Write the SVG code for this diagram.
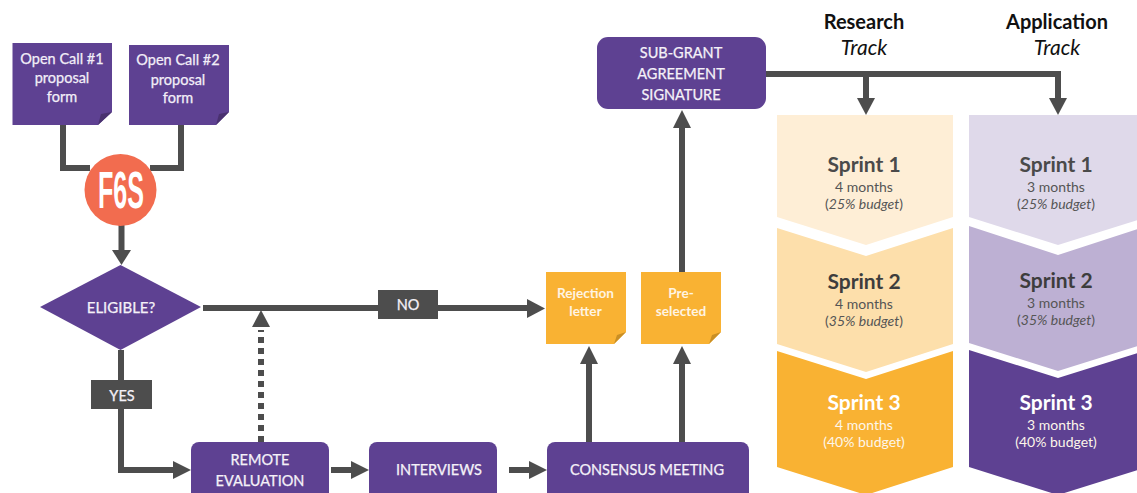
<svg xmlns="http://www.w3.org/2000/svg" width="1137" height="493" viewBox="0 0 1137 493">
<style>
text{font-family:"Lato","Open Sans","Liberation Sans",sans-serif;text-anchor:middle}
.w{fill:#f3eff8;stroke:#f3eff8;stroke-width:.25;font-size:14.500px}
.ww{fill:#f5f1f8;stroke:#f5f1f8;stroke-width:.25;font-size:14.500px}
.o{fill:#fff4e2;font-size:13.600px;font-weight:700}
.line{fill:none;stroke:#4d4d4d;stroke-width:6}
.head{fill:#4d4d4d}
.p{fill:#5e4192}
.a{fill:#f9b233}
.t{fill:#111;font-size:21px}
.s{font-size:21px;font-weight:700}
.d{fill:#555;font-size:14px}
.dw{fill:#fdf6ea;font-size:14px}
</style>
<rect width="1137" height="493" fill="#fff"/>
<g id="connectors">
<path class="line" d="M63 125V168H90M181 125V168H150"/>
<path class="line" d="M121.500 224V252"/><path class="head" d="M112 250H131L121.500 265Z"/>
<path class="line" d="M203 308H530"/><path class="head" d="M527 299L545 308.500L527 318Z"/>
<path class="line" d="M121 350V470H176"/><path class="head" d="M173 461L191 470L173 479Z"/>
<path class="line" d="M261 442V330" stroke-dasharray="6 5"/><path class="head" d="M252 327H270L261 310Z"/>
<path class="line" d="M331 470H354"/><path class="head" d="M351 461L369 470L351 479Z"/>
<path class="line" d="M509 470H532"/><path class="head" d="M529 461L547 470L529 479Z"/>
<path class="line" d="M589 442V360"/><path class="head" d="M580 364H598L589 346Z"/>
<path class="line" d="M682 442V360"/><path class="head" d="M673 364H691L682 346Z"/>
<path class="line" d="M682 272V125"/><path class="head" d="M673 128H691L682 110Z"/>
<path class="line" d="M766 74H1058V100M866 74V100"/>
<path class="head" d="M857 98H875L866 115Z"/><path class="head" d="M1049 98H1067L1058 115Z"/>
</g>
<g id="doc1"><path class="p" d="M12.500 43H112V112L98 125H12.500Z"/><path fill="#49316f" d="M98 125L101 114L112 112Z"/>
<text class="w" x="62" y="64">Open Call #1</text><text class="w" x="62" y="83">proposal</text><text class="w" x="62" y="102">form</text></g>
<g id="doc2"><path class="p" d="M129 45H229V112L216 125H129Z"/><path fill="#49316f" d="M216 125L219 114L229 112Z"/>
<text class="w" x="178" y="65">Open Call #2</text><text class="w" x="178" y="85">proposal</text><text class="w" x="178" y="103">form</text></g>
<g id="f6s"><circle cx="120.500" cy="190" r="36" fill="#f26c4f"/>
<text x="121" y="208" fill="#fff" font-size="52" font-weight="700" style="font-family:'Liberation Sans',sans-serif" textLength="46" lengthAdjust="spacingAndGlyphs">F6S</text></g>
<g id="eligible"><path class="p" d="M40 307L120.500 265L201 307L120.500 350Z"/><text class="ww" style="font-size:15px" x="121" y="313">ELIGIBLE?</text></g>
<g id="no"><rect x="378" y="290" width="60" height="29" fill="#4d4d4d"/><text class="ww" x="408" y="310">NO</text></g>
<g id="yes"><rect x="91" y="380" width="61" height="29" fill="#4d4d4d"/><text class="ww" x="122" y="401">YES</text></g>
<g id="remote"><path class="p" d="M199 442H321a8 8 0 0 1 8 8V493H191V450a8 8 0 0 1 8-8Z"/><text class="ww" x="260" y="465">REMOTE</text><text class="ww" x="260" y="486">EVALUATION</text></g>
<g id="interviews"><path class="p" d="M377 442H489a8 8 0 0 1 8 8V493H369V450a8 8 0 0 1 8-8Z"/><text class="ww" x="439" y="475">INTERVIEWS</text></g>
<g id="consensus"><path class="p" d="M555 442H741a8 8 0 0 1 8 8V493H547V450a8 8 0 0 1 8-8Z"/><text class="ww" x="647" y="475">CONSENSUS MEETING</text></g>
<g id="rejection"><path class="a" d="M546 272H626V332L614 344H546Z"/><path fill="#c98f25" d="M614 344L617 335L626 332Z"/><text class="o" x="585.500" y="298">Rejection</text><text class="o" x="585.500" y="316">letter</text></g>
<g id="preselected"><path class="a" d="M641 272H721V332L709 344H641Z"/><path fill="#c98f25" d="M709 344L712 335L721 332Z"/><text class="o" x="681" y="298">Pre-</text><text class="o" x="681" y="316">selected</text></g>
<g id="subgrant"><rect class="p" x="597" y="37" width="169" height="72" rx="11"/><text class="ww" x="681" y="58">SUB-GRANT</text><text class="ww" x="681" y="79">AGREEMENT</text><text class="ww" x="681" y="100">SIGNATURE</text></g>
<g id="track-research"><text class="t" font-weight="700" style="font-size:20px" x="864" y="29">Research</text><text class="t" font-style="italic" x="864" y="55">Track</text></g>
<g id="track-application"><text class="t" font-weight="700" style="font-size:20px" x="1057" y="29">Application</text><text class="t" font-style="italic" x="1057" y="55">Track</text></g>
<g id="r1"><path fill="#feeed6" d="M777 115H953V217L866 245L777 217Z"/><text class="s" fill="#4a4a4a" x="864" y="172">Sprint 1</text><text class="d" x="864" y="192">4 months</text><text class="d" x="864" y="209">(<tspan font-style="italic">25% budget</tspan>)</text></g>
<g id="r2"><path fill="#fddfab" d="M777 228L866 256L953 228V344L866 372L777 344Z"/><text class="s" fill="#3d3d3d" x="864" y="289">Sprint 2</text><text class="d" x="864" y="309">4 months</text><text class="d" x="864" y="326">(<tspan font-style="italic">35% budget</tspan>)</text></g>
<g id="r3"><path class="a" d="M777 351L866 379L953 351V467L866 495L777 467Z"/><text class="s" fill="#fff" x="864" y="410">Sprint 3</text><text class="dw" x="864" y="430">4 months</text><text class="dw" x="864" y="447">(40% budget)</text></g>
<g id="a1"><path fill="#dfd9ea" d="M969 115H1147V217L1058 245L969 217Z"/><text class="s" fill="#4a4a4a" x="1056" y="172">Sprint 1</text><text class="d" x="1056" y="192">3 months</text><text class="d" x="1056" y="209">(<tspan font-style="italic">25% budget</tspan>)</text></g>
<g id="a2"><path fill="#bdb0d3" d="M969 226L1058 255L1147 226V343L1058 371L969 343Z"/><text class="s" fill="#3d3d3d" x="1056" y="288">Sprint 2</text><text class="d" x="1056" y="308">3 months</text><text class="d" x="1056" y="325">(<tspan font-style="italic">35% budget</tspan>)</text></g>
<g id="a3"><path class="p" d="M969 350L1058 378L1147 350V467L1058 495L969 467Z"/><text class="s" fill="#fff" x="1056" y="410">Sprint 3</text><text class="dw" x="1056" y="430">3 months</text><text class="dw" x="1056" y="447">(40% budget)</text></g>
</svg>
